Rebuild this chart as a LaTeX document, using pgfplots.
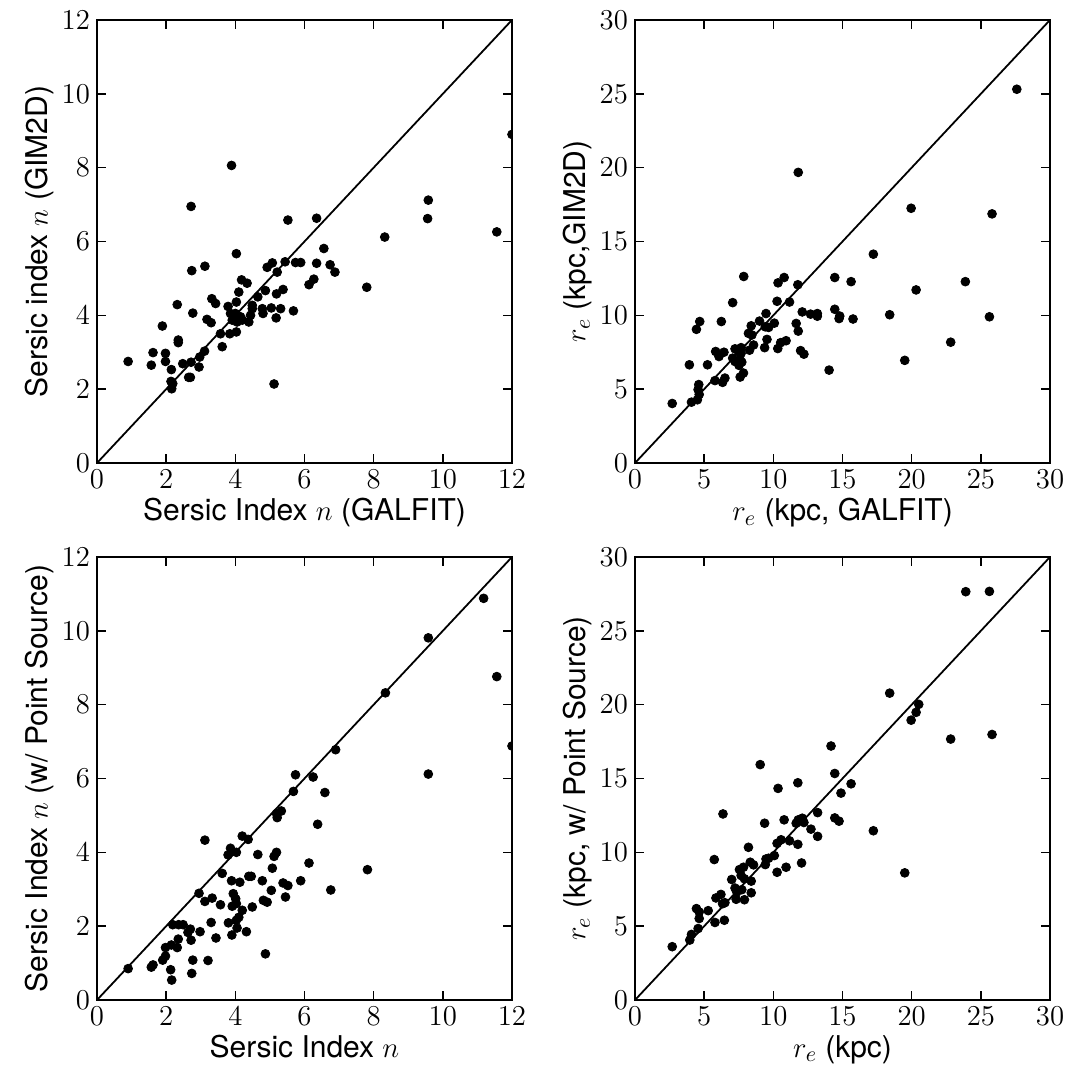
\documentclass[border=0pt]{standalone}
\usepackage{fontspec}
\setmainfont{TeX Gyre Heros}
\usepackage{pgfplots}
\pgfplotsset{compat=1.18}
\begin{document}
\begin{tikzpicture}
\pgfplotsset{
  panel/.style={
    scale only axis, width=207.5pt, height=221.5pt, anchor=south west,
    axis line style={line width=1.1pt}, tick style={line width=0.8pt, black},
    tick align=inside, major tick length=4.5pt,
    tick label style={font=\fontsize{14.5}{16}\selectfont},
    label style={font=\fontsize{15}{18}\selectfont},
    xlabel style={yshift=2pt}, ylabel style={yshift=-3pt},
    clip marker paths=true,
  },
  dots/.style={only marks, mark=*, mark size=2.2pt, black},
}
\useasboundingbox (0,0) rectangle (533pt,540pt);
% Top left
\begin{axis}[panel, at={(48.5pt,308.5pt)}, xmin=0, xmax=12, ymin=0, ymax=12,
  xtick={0,2,...,12}, ytick={0,2,...,12},
  xlabel={Sersic Index $n$ (GALFIT)}, ylabel={Sersic index $n$ (GIM2D)}]
\addplot[black, line width=0.9pt] coordinates {(0,0) (12,12)};
\addplot[dots] table {
0.90 2.75
3.89 8.06
2.72 6.95
5.52 6.58
6.35 6.63
4.03 5.67
2.74 5.21
3.12 5.33
5.44 5.45
5.74 5.43
5.89 5.43
6.35 5.41
4.92 5.30
5.07 5.42
5.21 5.17
4.18 4.96
4.34 4.87
4.10 4.63
4.65 4.50
4.87 4.67
5.19 4.58
5.38 4.70
6.13 4.83
6.27 4.98
3.32 4.45
3.43 4.32
2.32 4.29
3.79 4.24
4.03 4.36
4.49 4.27
4.49 4.18
4.78 4.18
4.80 4.05
5.04 4.20
5.31 4.18
5.68 4.12
5.18 3.93
2.77 4.06
3.86 4.05
4.00 4.05
4.15 3.96
3.91 3.87
4.05 3.82
4.20 3.87
4.39 3.82
4.44 4.00
3.18 3.89
3.30 3.80
1.89 3.71
3.57 3.50
3.84 3.50
4.03 3.55
2.35 3.33
2.35 3.26
3.62 3.15
3.11 3.03
2.97 2.87
1.62 2.99
1.98 2.97
1.98 2.75
1.57 2.65
2.48 2.69
2.72 2.73
2.15 2.53
2.95 2.60
2.65 2.32
2.70 2.32
2.14 2.21
2.19 2.15
2.16 2.01
5.12 2.14
9.58 7.12
9.56 6.62
8.32 6.12
11.56 6.26
6.56 5.81
6.74 5.37
6.88 5.17
7.80 4.76
12.0 8.90
};
\end{axis}
% Top right
\begin{axis}[panel, at={(317.5pt,308.5pt)}, xmin=0, xmax=30, ymin=0, ymax=30,
  xtick={0,5,...,30}, ytick={0,5,...,30},
  xlabel={$r_e$ (kpc, GALFIT)}, ylabel={$r_e$ (kpc,GIM2D)}]
\addplot[black, line width=0.9pt] coordinates {(0,0) (30,30)};
\addplot[dots] table {
11.80 19.68
7.86 12.63
10.34 12.20
10.78 12.56
11.77 12.07
14.44 12.56
10.27 10.95
11.17 10.90
7.06 10.86
12.09 10.23
12.69 10.08
13.18 10.12
13.18 9.94
14.44 10.41
14.80 9.95
14.75 9.78
4.68 9.58
4.44 9.05
6.24 9.58
9.47 10.12
9.00 9.61
10.07 9.47
8.40 9.29
8.20 8.78
8.45 8.67
9.42 9.22
9.66 9.18
9.54 8.37
11.65 9.45
11.80 8.93
10.53 8.15
10.92 8.28
9.37 7.81
10.32 7.75
8.57 7.99
8.28 7.64
5.83 7.55
6.07 7.21
6.43 7.50
7.23 7.73
7.67 7.81
7.48 7.55
7.67 7.43
7.06 7.10
7.23 6.87
7.60 6.99
7.72 6.83
7.52 6.61
3.93 6.65
5.24 6.65
11.97 7.61
12.21 7.37
14.03 6.29
7.84 6.09
7.60 5.82
6.50 5.75
6.33 5.46
5.78 5.58
4.61 5.31
4.56 4.97
4.64 4.64
4.51 4.28
4.08 4.12
2.69 4.03
27.6 25.31
19.96 17.25
25.81 16.87
17.23 14.14
15.62 12.28
23.88 12.28
20.32 11.72
15.76 9.75
18.41 10.04
25.62 9.90
22.82 8.18
19.50 6.95
};
\end{axis}
% Bottom left
\begin{axis}[panel, at={(48.5pt,40pt)}, xmin=0, xmax=12, ymin=0, ymax=12,
  xtick={0,2,...,12}, ytick={0,2,...,12},
  xlabel={Sersic Index $n$}, ylabel={Sersic Index $n$ (w/ Point Source)}]
\addplot[black, line width=0.9pt] coordinates {(0,0) (12,12)};
\addplot[dots] table {
5.74 6.10
6.25 6.04
5.68 5.65
5.19 5.05
5.33 5.12
5.21 4.94
3.12 4.33
4.20 4.44
4.37 4.35
3.86 4.11
3.79 3.93
4.03 4.00
4.65 3.94
5.19 4.00
5.12 3.89
6.13 3.71
5.07 3.57
3.62 3.43
3.89 3.23
4.13 3.19
4.39 3.35
4.46 3.35
4.78 3.23
5.38 3.17
5.52 3.10
5.89 3.23
5.04 2.97
2.95 2.89
3.94 2.88
4.01 2.74
3.91 2.54
4.03 2.61
4.20 2.43
4.49 2.52
3.33 2.76
3.12 2.67
3.57 2.58
4.81 2.70
4.92 2.65
5.45 2.79
2.19 2.04
2.36 2.04
2.49 2.04
3.30 2.10
3.80 2.09
4.10 2.24
4.03 2.16
4.05 1.95
2.70 1.92
2.63 1.83
2.98 1.85
4.32 1.85
3.90 1.76
3.44 1.68
2.35 1.65
2.72 1.62
1.98 1.42
2.15 1.49
2.32 1.42
1.98 1.19
1.90 1.08
1.62 0.95
1.57 0.89
0.90 0.85
2.77 1.08
3.21 1.07
4.87 1.25
2.13 0.82
2.74 0.72
2.16 0.54
11.18 10.88
9.58 9.81
11.56 8.76
8.34 8.32
6.90 6.78
12.0 6.88
9.58 6.12
6.59 5.62
6.38 4.76
6.76 2.98
7.82 3.53
};
\end{axis}
% Bottom right
\begin{axis}[panel, at={(317.5pt,40pt)}, xmin=0, xmax=30, ymin=0, ymax=30,
  xtick={0,5,...,30}, ytick={0,5,...,30},
  xlabel={$r_e$ (kpc)}, ylabel={$r_e$ (kpc, w/ Point Source)}]
\addplot[black, line width=0.9pt] coordinates {(0,0) (30,30)};
\addplot[dots] table {
9.05 15.94
14.44 15.34
10.34 14.33
11.77 14.71
14.89 14.01
6.36 12.60
9.37 11.97
10.78 12.20
11.65 11.97
11.80 12.20
12.09 12.31
12.21 12.02
13.20 12.69
14.44 12.33
14.75 12.11
12.72 11.57
13.20 11.08
10.27 10.61
10.56 10.85
11.17 10.78
11.77 10.54
8.20 10.34
10.07 9.78
9.47 9.55
9.42 9.17
9.66 9.60
8.33 9.33
8.57 9.15
5.73 9.51
10.27 8.65
10.92 8.99
12.04 9.28
7.55 8.83
7.84 8.99
7.67 8.43
7.91 8.21
8.40 8.05
6.99 8.16
7.23 7.58
7.72 7.47
7.36 7.31
8.40 7.26
7.31 6.82
7.91 6.79
5.85 6.91
6.21 7.15
6.50 6.59
6.33 6.52
4.44 6.19
4.64 5.96
5.29 6.05
4.64 5.52
4.56 4.84
5.78 5.25
6.46 5.40
4.08 4.44
3.96 4.06
2.69 3.61
23.91 27.65
25.62 27.67
18.41 20.78
20.51 20.02
20.32 19.48
19.96 18.95
22.82 17.67
25.81 17.98
14.17 17.20
15.62 14.64
17.23 11.46
19.50 8.61
};
\end{axis}
\end{tikzpicture}
\end{document}
